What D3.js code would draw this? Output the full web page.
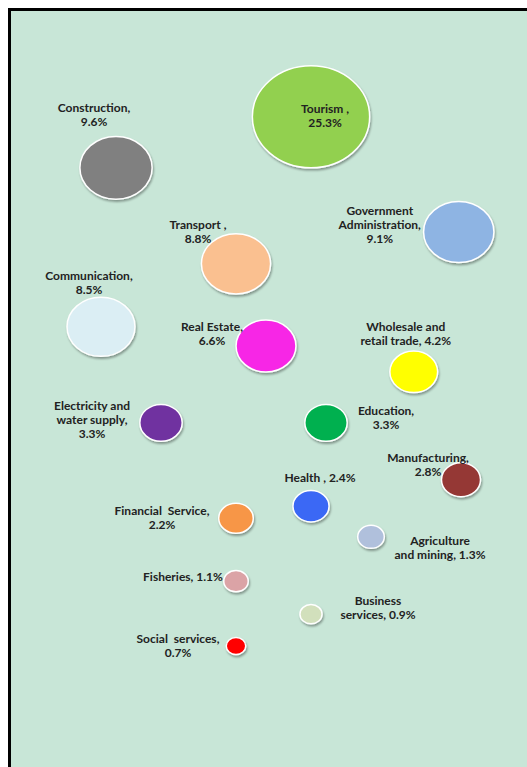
<!DOCTYPE html>
<html>
<head>
<meta charset="utf-8">
<script src="https://cdn.jsdelivr.net/npm/d3@7"></script>
<style>
  html, body { margin: 0; padding: 0; background: #fff; }
  svg { display: block; }
  .lbl { font-family: Lato, "Open Sans", sans-serif; font-weight: bold; font-size: 12px; fill: #222; }
</style>
</head>
<body>
<div id="chart"></div>
<script>
// sectors and their share (%)
const sectors = ["Tourism", "Construction", "Government Administration", "Transport", "Communication",
  "Real Estate", "Wholesale and retail trade", "Electricity and water supply", "Education",
  "Manufacturing", "Health", "Financial Service", "Agriculture and mining", "Fisheries",
  "Business services", "Social services"];
const shares = [25.3, 9.6, 9.1, 8.8, 8.5, 6.6, 4.2, 3.3, 3.3, 2.8, 2.4, 2.2, 1.3, 1.1, 0.9, 0.7];
// bubble x / y values
const xVals = [4.0, 1.4, 5.97, 3.0, 1.2, 3.4, 5.37, 2.0, 4.2, 6.0, 4.0, 3.0, 4.8, 3.0, 4.0, 3.0];
const yVals = [9.72, 8.87, 7.8, 7.27, 6.22, 5.9, 5.47, 4.62, 4.62, 3.67, 3.23, 3.03, 2.72, 1.98, 1.43, 0.9];
// label text lines
const labels = [
  ["Tourism ,", "25.3%"], ["Construction,", "9.6%"], ["Government", "Administration,", "9.1%"],
  ["Transport ,", "8.8%"], ["Communication,", "8.5%"], ["Real Estate,", "6.6%"],
  ["Wholesale and", "retail trade, 4.2%"], ["Electricity and", "water supply,", "3.3%"],
  ["Education,", "3.3%"], ["Manufacturing,", "2.8%"], ["Health , 2.4%"],
  ["Financial  Service,", "2.2%"], ["Agriculture", "and mining, 1.3%"], ["Fisheries, 1.1%"],
  ["Business", "services, 0.9%"], ["Social  services,", "0.7%"]
];
const colors = ["#92d050", "#808080", "#8eb4e3", "#fac090", "#dbeef4", "#f726e6", "#ffff00", "#7030a0",
  "#00b050", "#953735", "#3a68f5", "#f79646", "#b0c0dc", "#dba3a6", "#d2e0bc", "#ff0000"];

// label offsets from bubble centre (layout)
const labelOff = [
  [14, -1], [-22, -53], [-79, -7], [-38, -32], [-12, -44], [-54, -12], [-8, -38], [-69, -3],
  [60, -5], [-33, -15], [9, -28], [-74, 0], [69, 11], [-53, -4], [67, -6], [-58, 0]
];

const W = 527, H = 767;
const svg = d3.select("#chart").append("svg").attr("width", W).attr("height", H);

const defs = svg.append("defs");
const f = defs.append("filter").attr("id", "shadow").attr("x", "-20%").attr("y", "-20%").attr("width", "150%").attr("height", "150%");
f.append("feDropShadow").attr("dx", 1).attr("dy", 2).attr("stdDeviation", 1.3)
  .attr("flood-color", "#000").attr("flood-opacity", 0.35);

// frame
svg.append("rect").attr("x", 9.5).attr("y", 9.5).attr("width", 700).attr("height", 900)
  .attr("fill", "#c8e6d7").attr("stroke", "#000").attr("stroke-width", 3);

const x = d3.scaleLinear().domain([0, 7]).range([11, 536]);
const y = d3.scaleLinear().domain([0, 10]).range([700, 100]);
const r = d3.scaleSqrt().domain([0, 25.3]).range([0, 51]);
const aspect = 1.15;

const data = sectors.map((s, i) => ({ name: s, v: shares[i], x: xVals[i], y: yVals[i], lines: labels[i], c: colors[i], off: labelOff[i] }));

const g = svg.append("g");
g.selectAll("ellipse").data(data).enter().append("ellipse")
  .attr("cx", d => x(d.x)).attr("cy", d => y(d.y))
  .attr("rx", d => r(d.v) * aspect).attr("ry", d => r(d.v))
  .attr("fill", d => d.c).attr("stroke", "#fff").attr("stroke-width", 1.5)
  .attr("filter", "url(#shadow)");

const lh = 14;
const t = svg.append("g").selectAll("text").data(data).enter().append("text")
  .attr("class", "lbl").attr("text-anchor", "middle")
  .attr("transform", d => `translate(${x(d.x) + d.off[0]},${y(d.y) + d.off[1]})`);
t.selectAll("tspan").data(d => d.lines.map((l, i) => ({ l, i, n: d.lines.length }))).enter().append("tspan")
  .attr("x", 0)
  .attr("y", d => (d.i - (d.n - 1) / 2) * lh)
  .attr("dy", "0.35em")
  .attr("xml:space", "preserve")
  .text(d => d.l);
</script>
</body>
</html>
